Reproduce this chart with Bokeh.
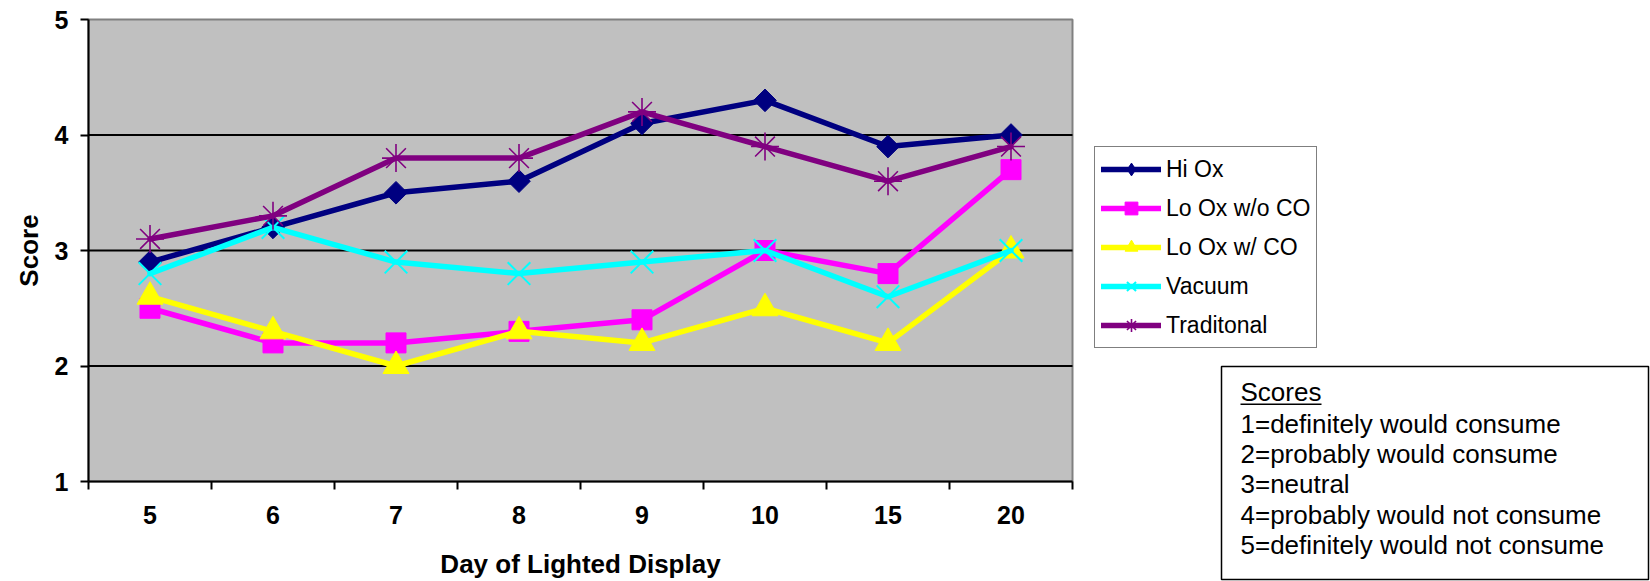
import math
from bokeh.plotting import figure
from bokeh.models import Range1d, FixedTicker, Legend, LegendItem, Label, BoxAnnotation
from bokeh.embed import file_html
from bokeh.resources import INLINE

# ---- data -------------------------------------------------------------
days = ["5", "6", "7", "8", "9", "10", "15", "20"]

hi_ox = [2.9, 3.2, 3.5, 3.6, 4.1, 4.3, 3.9, 4.0]
lo_ox_wo_co = [2.5, 2.2, 2.2, 2.3, 2.4, 3.0, 2.8, 3.7]
lo_ox_w_co = [2.6, 2.3, 2.0, 2.3, 2.2, 2.5, 2.2, 3.0]
vacuum = [2.8, 3.2, 2.9, 2.8, 2.9, 3.0, 2.6, 3.0]
traditional = [3.1, 3.3, 3.8, 3.8, 4.2, 3.9, 3.6, 3.9]

series_names = ["Hi Ox", "Lo Ox w/o CO", "Lo Ox w/ CO", "Vacuum", "Traditonal"]
score_ticks = [1, 2, 3, 4, 5]
score_grid = [2, 3, 4]

key_title = "Scores"
key_lines = [
    "1=definitely would consume",
    "2=probably would consume",
    "3=neutral",
    "4=probably would not consume",
    "5=definitely would not consume",
]

# ---- page geometry (pixels) -------------------------------------------
W, H = 1650, 581
PLOT_L, PLOT_R, PLOT_T, PLOT_B = 88, 1072, 19, 481

FONT = "Liberation Sans"
# legend_marker: marker shape used for the legend sample when it differs
styles = [
    dict(color="#000080", marker="square", size=16, angle=math.pi / 4, lw=1, legend_marker="diamond"),
    dict(color="#FF00FF", marker="square", size=20, angle=0.0, lw=1, legend_marker=None),
    dict(color="#FFFF00", marker="triangle", size=26, angle=0.0, lw=1, legend_marker=None),
    dict(color="#00FFFF", marker="x", size=32, angle=0.0, lw=2, legend_marker=None),
    dict(color="#800080", marker="asterisk", size=28, angle=0.0, lw=1.6, legend_marker=None),
]
series_values = [hi_ox, lo_ox_wo_co, lo_ox_w_co, vacuum, traditional]

# the frame fills the whole canvas; ranges are chosen so that the
# category / score area lands on the plot rectangle above
xs = list(range(len(days)))
x_lo, x_hi = -0.5, len(days) - 0.5
y_lo, y_hi = score_ticks[0], score_ticks[-1]
px_x = (PLOT_R - PLOT_L) / (x_hi - x_lo)
px_y = (PLOT_B - PLOT_T) / (y_hi - y_lo)
x_range = Range1d(x_lo - PLOT_L / px_x, x_lo + (W - PLOT_L) / px_x)
y_range = Range1d(y_lo - (H - PLOT_B) / px_y, y_hi + PLOT_T / px_y)

p = figure(
    width=W, height=H, x_range=x_range, y_range=y_range,
    output_backend="svg", toolbar_location=None, min_border=0,
)
p.background_fill_color = "white"
p.border_fill_color = "white"
p.outline_line_color = None
p.grid.visible = False

# plot area and horizontal gridlines
p.quad(left=[x_lo], right=[x_hi], bottom=[y_lo], top=[y_hi],
       fill_color="#C0C0C0", line_color="#808080", line_width=2, level="underlay")
p.segment(x0=[x_lo] * len(score_grid), x1=[x_hi] * len(score_grid),
          y0=score_grid, y1=score_grid, line_color="black", line_width=2, level="underlay")

# x axis: labels centred on each day, ticks on the boundaries between days
xa = p.xaxis[0]
xa.fixed_location = y_lo
xa.bounds = (x_lo, x_hi)
xa.ticker = FixedTicker(ticks=xs, minor_ticks=[i - 0.5 for i in range(len(days) + 1)])
xa.major_label_overrides = {float(i): d for i, d in enumerate(days)}
xa.major_tick_line_color = None
xa.major_tick_out = 8
xa.major_tick_in = 0
xa.minor_tick_line_color = "black"
xa.minor_tick_line_width = 2
xa.minor_tick_out = 8
xa.minor_tick_in = 0
xa.major_label_standoff = 16

ya = p.yaxis[0]
ya.fixed_location = x_lo
ya.bounds = (y_lo, y_hi)
ya.ticker = FixedTicker(ticks=score_ticks)
ya.major_tick_line_color = "black"
ya.major_tick_line_width = 2
ya.major_tick_out = 8
ya.major_tick_in = 0
ya.minor_tick_line_color = None
ya.major_label_standoff = 12

for ax in (xa, ya):
    ax.axis_line_color = "black"
    ax.axis_line_width = 2
    ax.major_label_text_font = FONT
    ax.major_label_text_font_style = "bold"
    ax.major_label_text_font_size = "25px"
    ax.major_label_text_color = "black"

# axis titles
p.add_layout(Label(x=(PLOT_L + PLOT_R) / 2, y=H - 563, x_units="screen", y_units="screen",
                   text="Day of Lighted Display", text_font=FONT, text_font_style="bold",
                   text_font_size="26px", text_align="center", text_baseline="middle",
                   text_color="black"))
p.add_layout(Label(x=28, y=H - (PLOT_T + PLOT_B) / 2, x_units="screen", y_units="screen",
                   angle=math.pi / 2, text="Score", text_font=FONT, text_font_style="bold",
                   text_font_size="26px", text_align="center", text_baseline="middle",
                   text_color="black"))

# series
items = []
for name, vals, st in zip(series_names, series_values, styles):
    rl = p.line(xs, vals, line_color=st["color"], line_width=5.5,
                line_join="round", line_cap="round")
    rs = p.scatter(xs, vals, marker=st["marker"], size=st["size"], angle=st["angle"],
                   fill_color=st["color"], line_color=st["color"], line_width=st["lw"])
    legend_renderers = [rl, rs]
    if st["legend_marker"] is not None:
        # legend-only sample, positioned off the visible canvas
        sample = p.scatter([x_range.start - 10], [y_range.start - 10], marker=st["legend_marker"],
                           size=st["size"], fill_color=st["color"], line_color=st["color"],
                           line_width=st["lw"])
        legend_renderers = [rl, sample]
    items.append(LegendItem(label=name, renderers=legend_renderers))

legend = Legend(
    items=items, location=(1094, H - 348),
    border_line_color="black", border_line_width=1.5,
    background_fill_color="white", background_fill_alpha=1.0,
    padding=6, spacing=7, margin=0,
    glyph_width=60, glyph_height=32, label_height=32, label_standoff=5,
    label_text_font=FONT, label_text_font_size="23px",
    label_text_color="black", label_text_baseline="middle",
)
p.add_layout(legend)

# score key
p.add_layout(BoxAnnotation(
    left=1221, right=1648, top=H - 366, bottom=H - 579,
    left_units="screen", right_units="screen", top_units="screen", bottom_units="screen",
    fill_color="white", fill_alpha=1.0, line_color="black", line_width=1.5, line_alpha=1.0,
))
text_x = 1240
p.add_layout(Label(x=text_x, y=H - 391, x_units="screen", y_units="screen", text=key_title,
                   text_font=FONT, text_font_size="26px", text_baseline="middle",
                   text_align="left", text_color="black"))
p.add_layout(BoxAnnotation(
    left=text_x, right=text_x + 81, top=H - 403, bottom=H - 404.5,
    left_units="screen", right_units="screen", top_units="screen", bottom_units="screen",
    fill_color="black", fill_alpha=1.0, line_color=None,
))
line_pitch = 30.4
for i, txt in enumerate(key_lines):
    p.add_layout(Label(x=text_x, y=H - 423 - i * line_pitch, x_units="screen", y_units="screen",
                       text=txt, text_font=FONT, text_font_size="26px",
                       text_baseline="middle", text_align="left", text_color="black"))

with open("out.html", "w") as f:
    f.write(file_html(p, INLINE))
